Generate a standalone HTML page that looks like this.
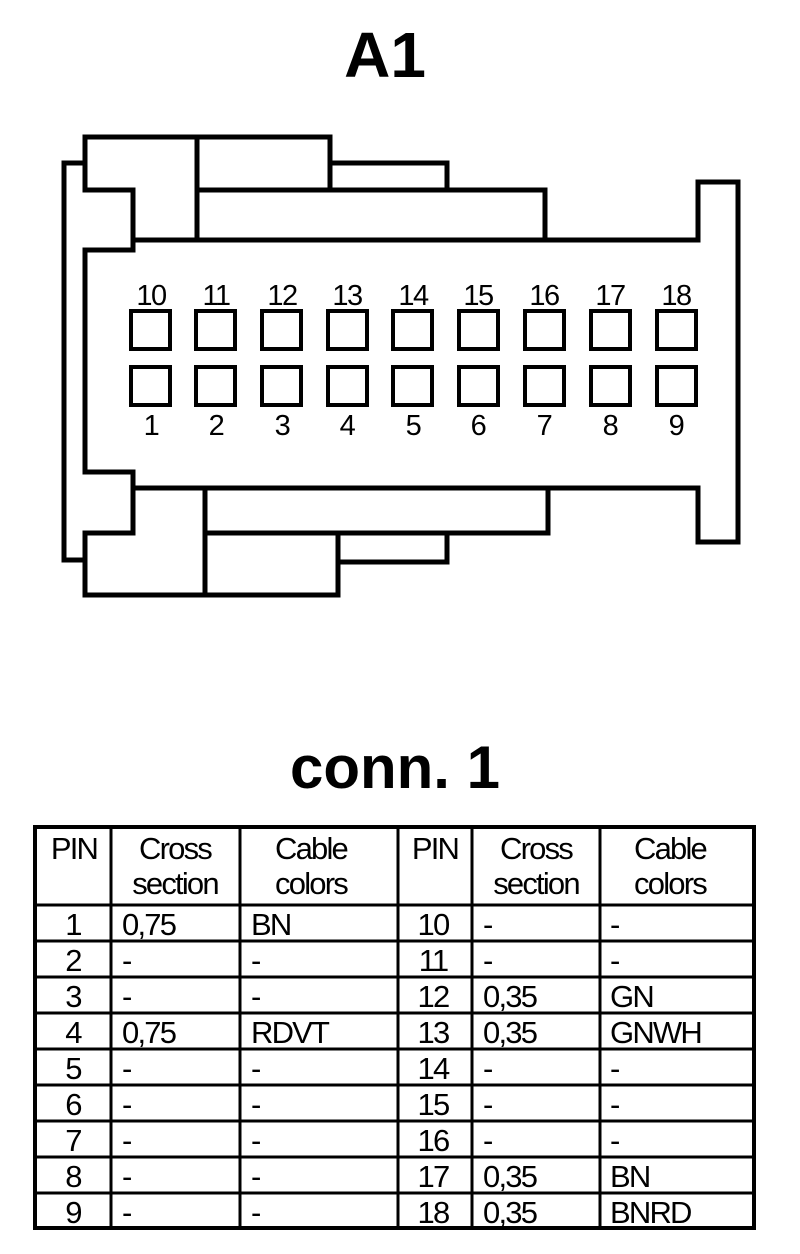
<!DOCTYPE html>
<html><head><meta charset="utf-8"><style>
html,body{margin:0;padding:0;background:#fff;width:800px;height:1254px;overflow:hidden}
svg{display:block}
text{font-family:"Liberation Sans",Arial,sans-serif;fill:#000}
</style></head><body>
<svg width="800" height="1254" viewBox="0 0 800 1254">
<text x="385" y="77" font-size="64" font-weight="bold" text-anchor="middle">A1</text>
<g fill="none" stroke="#000" stroke-width="5">
<polyline points="85,163 64,163 64,560 85,560"/>
<polygon points="85,137 330,137 330,163 447,163 447,190 545,190 545,240 698,240 698,182 738,182 738,542 698,542 698,488 548,488 548,533 447,533 447,562 338,562 338,595 85,595 85,533 133,533 133,472 85,472 85,250 133,250 133,190 85,190"/>
<polyline points="133,240 698,240"/>
<polyline points="197,137 197,240"/>
<polyline points="197,190 447,190"/>
<polyline points="330,137 330,190"/>
<polyline points="133,488 698,488"/>
<polyline points="205,488 205,595"/>
<polyline points="205,533 548,533"/>
<polyline points="338,533 338,595"/>
</g>
<g fill="none" stroke="#000" stroke-width="4">
<rect x="131" y="311" width="39" height="38"/><rect x="196" y="311" width="39" height="38"/><rect x="262" y="311" width="39" height="38"/><rect x="328" y="311" width="39" height="38"/><rect x="393" y="311" width="39" height="38"/><rect x="459" y="311" width="39" height="38"/><rect x="525" y="311" width="39" height="38"/><rect x="591" y="311" width="39" height="38"/><rect x="657" y="311" width="39" height="38"/>
<rect x="131" y="367" width="39" height="38"/><rect x="196" y="367" width="39" height="38"/><rect x="262" y="367" width="39" height="38"/><rect x="328" y="367" width="39" height="38"/><rect x="393" y="367" width="39" height="38"/><rect x="459" y="367" width="39" height="38"/><rect x="525" y="367" width="39" height="38"/><rect x="591" y="367" width="39" height="38"/><rect x="657" y="367" width="39" height="38"/>
</g>
<g font-size="29" text-anchor="middle" letter-spacing="-1.5">
<text x="151" y="305">10</text><text x="216" y="305">11</text><text x="282" y="305">12</text><text x="347" y="305">13</text><text x="413" y="305">14</text><text x="478" y="305">15</text><text x="544" y="305">16</text><text x="610" y="305">17</text><text x="676" y="305">18</text>
<text x="151" y="435">1</text><text x="216" y="435">2</text><text x="282" y="435">3</text><text x="347" y="435">4</text><text x="413" y="435">5</text><text x="478" y="435">6</text><text x="544" y="435">7</text><text x="610" y="435">8</text><text x="676" y="435">9</text>
</g>
<text x="395" y="788" font-size="60" font-weight="bold" text-anchor="middle">conn. 1</text>
<g stroke="#000" fill="none">
<rect x="35" y="827" width="719" height="401" stroke-width="4"/>
<g stroke-width="3">
<line x1="111" y1="827" x2="111" y2="1228"/><line x1="240" y1="827" x2="240" y2="1228"/><line x1="398" y1="827" x2="398" y2="1228"/><line x1="472" y1="827" x2="472" y2="1228"/><line x1="600" y1="827" x2="600" y2="1228"/>
<line x1="35" y1="905" x2="754" y2="905"/><line x1="35" y1="941" x2="754" y2="941"/><line x1="35" y1="977" x2="754" y2="977"/><line x1="35" y1="1013" x2="754" y2="1013"/><line x1="35" y1="1049" x2="754" y2="1049"/><line x1="35" y1="1085" x2="754" y2="1085"/><line x1="35" y1="1121" x2="754" y2="1121"/><line x1="35" y1="1157" x2="754" y2="1157"/><line x1="35" y1="1193" x2="754" y2="1193"/>
</g></g>
<g font-size="31" letter-spacing="-1.8">
<g text-anchor="middle">
<text x="74" y="859">PIN</text><text x="175" y="859">Cross</text><text x="175" y="894">section</text><text x="311" y="859">Cable</text><text x="311" y="894">colors</text>
<text x="435" y="859">PIN</text><text x="536" y="859">Cross</text><text x="536" y="894">section</text><text x="670" y="859">Cable</text><text x="670" y="894">colors</text>
<text x="73" y="935">1</text><text x="73" y="971">2</text><text x="73" y="1007">3</text><text x="73" y="1043">4</text><text x="73" y="1079">5</text><text x="73" y="1115">6</text><text x="73" y="1151">7</text><text x="73" y="1187">8</text><text x="73" y="1223">9</text>
<text x="433" y="935">10</text><text x="433" y="971">11</text><text x="433" y="1007">12</text><text x="433" y="1043">13</text><text x="433" y="1079">14</text><text x="433" y="1115">15</text><text x="433" y="1151">16</text><text x="433" y="1187">17</text><text x="433" y="1223">18</text>
</g>
<text x="122" y="935">0,75</text><text x="122" y="971">-</text><text x="122" y="1007">-</text><text x="122" y="1043">0,75</text><text x="122" y="1079">-</text><text x="122" y="1115">-</text><text x="122" y="1151">-</text><text x="122" y="1187">-</text><text x="122" y="1223">-</text>
<text x="251" y="935">BN</text><text x="251" y="971">-</text><text x="251" y="1007">-</text><text x="251" y="1043">RDVT</text><text x="251" y="1079">-</text><text x="251" y="1115">-</text><text x="251" y="1151">-</text><text x="251" y="1187">-</text><text x="251" y="1223">-</text>
<text x="483" y="935">-</text><text x="483" y="971">-</text><text x="483" y="1007">0,35</text><text x="483" y="1043">0,35</text><text x="483" y="1079">-</text><text x="483" y="1115">-</text><text x="483" y="1151">-</text><text x="483" y="1187">0,35</text><text x="483" y="1223">0,35</text>
<text x="610" y="935">-</text><text x="610" y="971">-</text><text x="610" y="1007">GN</text><text x="610" y="1043">GNWH</text><text x="610" y="1079">-</text><text x="610" y="1115">-</text><text x="610" y="1151">-</text><text x="610" y="1187">BN</text><text x="610" y="1223">BNRD</text>
</g>
</svg>
</body></html>
